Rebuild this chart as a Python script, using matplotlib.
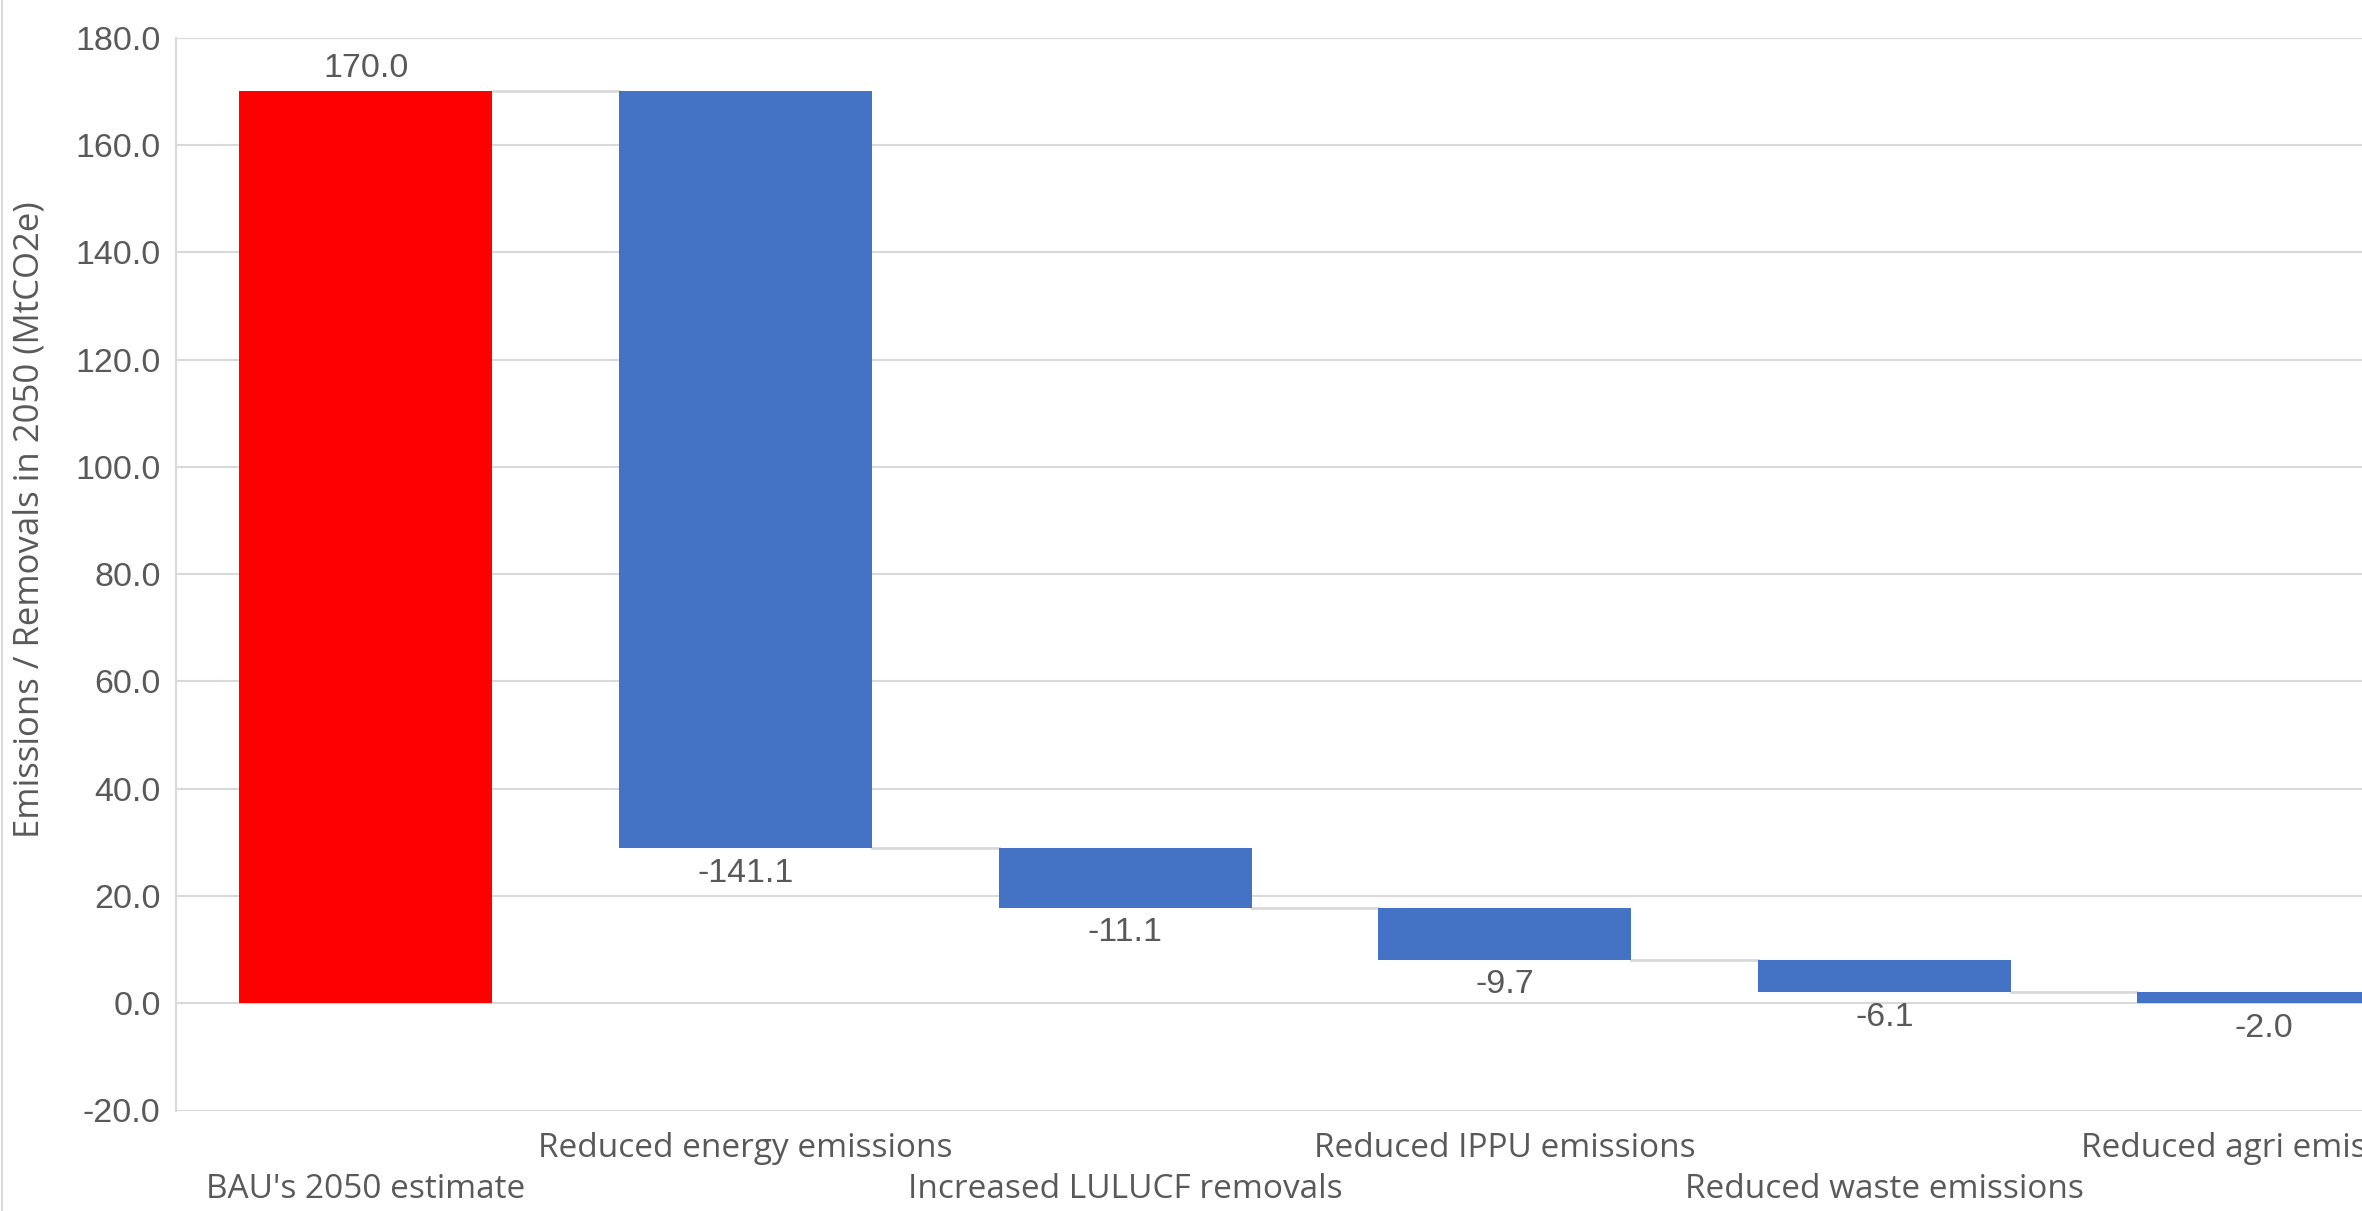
import matplotlib
matplotlib.use("Agg")
import matplotlib.pyplot as plt
from matplotlib.lines import Line2D

categories = ["BAU's 2050 estimate", "Reduced energy emissions", "Increased LULUCF removals",
              "Reduced IPPU emissions", "Reduced waste emissions", "Reduced agri emissions"]
values = [170.0, -141.1, -11.1, -9.7, -6.1, -2.0]
bar_colors = ["#FF0000", "#4472C4", "#4472C4", "#4472C4", "#4472C4", "#4472C4"]
y_ticks = [-20, 0, 20, 40, 60, 80, 100, 120, 140, 160, 180]
y_label = "Emissions / Removals in 2050 (MtCO2e)"

plt.rcParams['font.family'] = ['Open Sans', 'DejaVu Sans']
NUMFONT = ['Liberation Sans', 'DejaVu Sans']
TXT = "#595959"
GRID = "#d9d9d9"

fig = plt.figure(figsize=(23.62, 12.11), dpi=100)
ax = fig.add_axes([176/2362, 100.5/1211, 1 - 176/2362, 1072.8/1211])

width = 0.667
running = 0.0
bottoms, heights, tops_after = [], [], []
for i, v in enumerate(values):
    if i == 0:
        b, h = 0.0, v
        running = v
    else:
        new = running + v
        b, h = min(running, new), abs(v)
        running = new
    bottoms.append(b); heights.append(h); tops_after.append(running)

x = list(range(len(values)))
ax.bar(x, heights, bottom=bottoms, width=width, color=bar_colors, zorder=3)

# connectors
for i in range(len(values) - 1):
    ax.plot([x[i] + width/2, x[i+1] - width/2], [tops_after[i], tops_after[i]],
            color=GRID, lw=2, zorder=2)

# data labels
for i, v in enumerate(values):
    if v >= 0:
        ax.annotate(f"{v:.1f}", (x[i], bottoms[i] + heights[i]), xytext=(0, 5),
                    textcoords="offset points", ha="center", va="bottom",
                    fontsize=24.5, color=TXT, family=NUMFONT)
    else:
        ax.annotate(f"{v:.1f}", (x[i], bottoms[i]), xytext=(0, -7),
                    textcoords="offset points", ha="center", va="top",
                    fontsize=24.5, color=TXT, family=NUMFONT)

ax.set_xlim(-0.5, 5.258)
ax.set_ylim(-20, 180)
ax.set_yticks(y_ticks)
ax.set_yticklabels([f"{t:.1f}" for t in y_ticks], fontsize=24.5, color=TXT, family=NUMFONT)
ax.set_xticks([])
ax.tick_params(axis='y', length=0, pad=11)
ax.grid(axis='y', color=GRID, lw=1.5, zorder=0)
for s in ["top", "right", "bottom"]:
    ax.spines[s].set_visible(False)
ax.spines["left"].set_color(GRID)
ax.spines["left"].set_linewidth(1.5)

# staggered category labels
tr = ax.get_xaxis_transform()
for i, c in enumerate(categories):
    yy = -0.074 if i % 2 == 0 else -0.035
    ax.text(x[i], yy, c, transform=tr, ha="center", va="center",
            fontsize=24, color=TXT, clip_on=False)

fig.text(30/2362, 1 - 520/1211, y_label, rotation=90, ha="center", va="center",
         fontsize=25, color=TXT)

fig.add_artist(Line2D([2/2362, 2/2362], [0, 1], transform=fig.transFigure,
                      color=GRID, lw=1.5))

fig.savefig("out.png", dpi=100)
